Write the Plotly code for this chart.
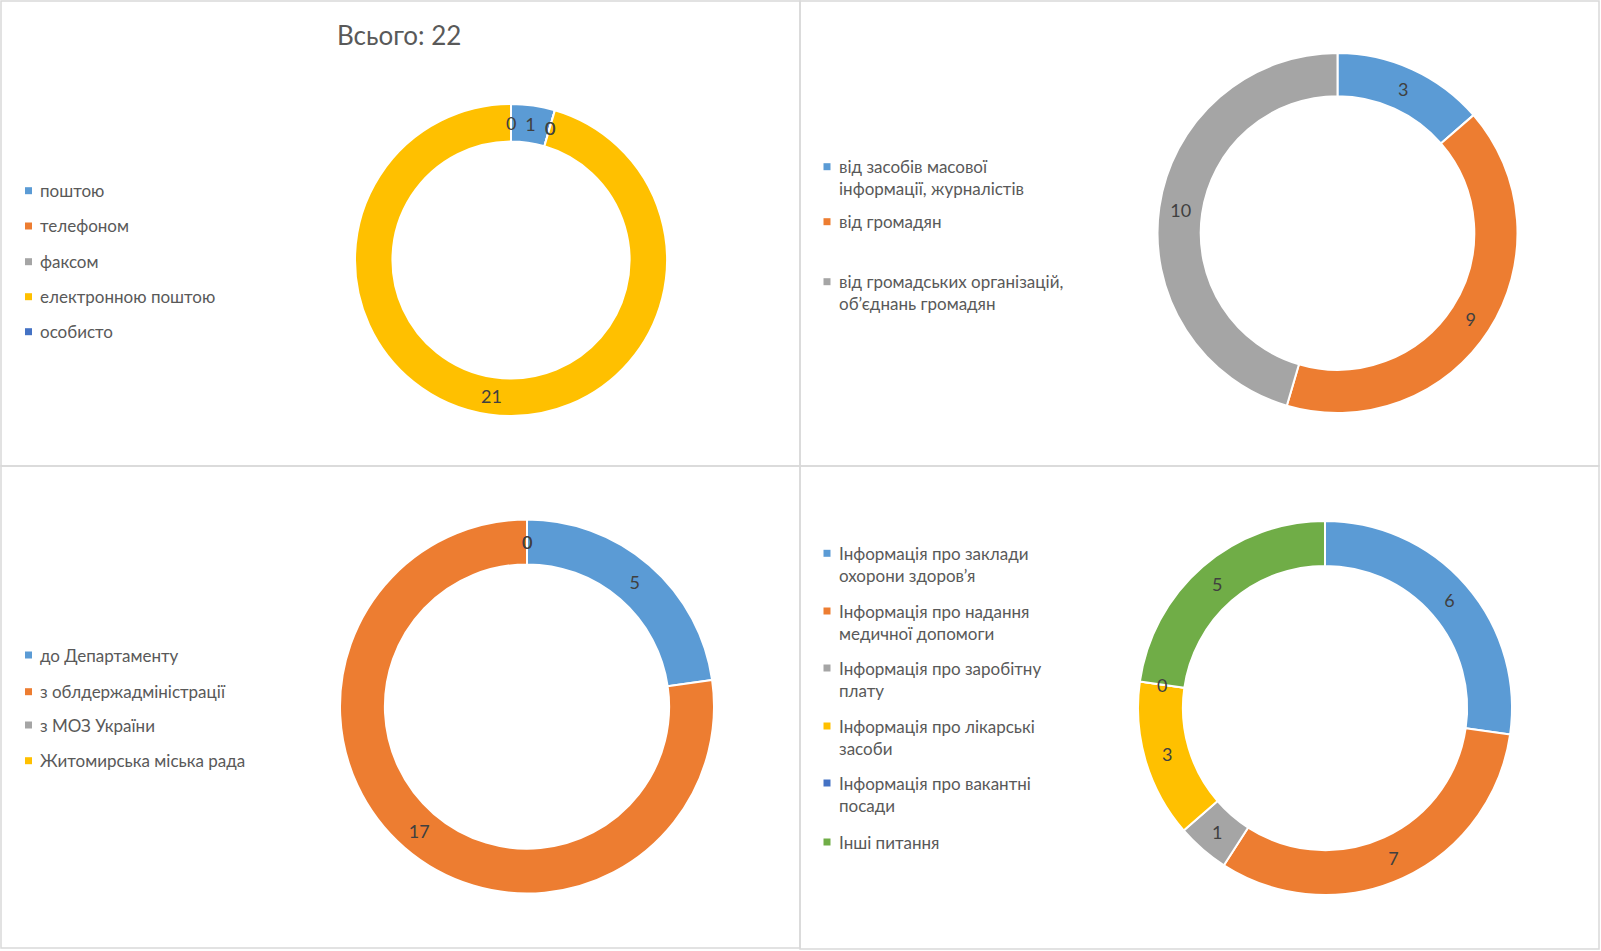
import math
import plotly.graph_objects as go

# ---------------- data ----------------
title_text = "Всього: 22"

p1_labels = ["поштою", "телефоном", "факсом", "електронною поштою", "особисто"]
p1_values = [1, 0, 0, 21, 0]

p2_labels = ["від засобів масової<br>інформації, журналістів", "від громадян",
             "від громадських організацій,<br>об’єднань громадян"]
p2_values = [3, 9, 10]

p3_labels = ["до Департаменту", "з облдержадміністрації", "з МОЗ України", "Житомирська міська рада"]
p3_values = [5, 17, 0, 0]

p4_labels = ["Інформація про заклади<br>охорони здоров’я",
             "Інформація про надання<br>медичної допомоги",
             "Інформація про заробітну<br>плату",
             "Інформація про лікарські<br>засоби",
             "Інформація про вакантні<br>посади",
             "Інші питання"]
p4_values = [6, 7, 1, 3, 0, 5]

# ---------------- styles / layout ----------------
W, H = 1601, 951
PALETTE = ["#5B9BD5", "#ED7D31", "#A5A5A5", "#FFC000", "#4472C4", "#70AD47"]
FONT = "Lato, 'Open Sans', sans-serif"
LEG_FS = 17
LAB_FS = 18
HOLE = 0.76

panels = [
    dict(labels=p1_labels, values=p1_values, cx=511, cy=260, r=156,
         mx=28.5, tx=37.5, ys=[190.7, 226, 261.7, 296.7, 331.7]),
    dict(labels=p2_labels, values=p2_values, cx=1337.5, cy=233, r=180,
         mx=827, tx=837, ys=[166.7, 221.7, 281.7]),
    dict(labels=p3_labels, values=p3_values, cx=527, cy=706.5, r=187,
         mx=28.5, tx=37.5, ys=[655, 691.7, 725, 760.7]),
    dict(labels=p4_labels, values=p4_values, cx=1325, cy=708, r=187,
         mx=827, tx=837, ys=[553.3, 611, 668, 726, 783, 842]),
]


def px(x):
    return x / W


def py(y):
    return 1 - y / H


fig = go.Figure()
annotations = []
shapes = []

for p in panels:
    cx, cy, r = p["cx"], p["cy"], p["r"]
    vals = p["values"]
    fig.add_trace(go.Pie(
        labels=[l.replace("<br>", " ") for l in p["labels"]],
        values=vals,
        hole=HOLE,
        sort=False,
        direction="clockwise",
        rotation=0,
        marker=dict(colors=PALETTE[:len(vals)], line=dict(color="white", width=2)),
        texttemplate="%{value}",
        textposition="inside",
        insidetextorientation="horizontal",
        textfont=dict(family=FONT, size=LAB_FS, color="#404040"),
        hoverinfo="skip",
        showlegend=False,
        domain=dict(x=[px(cx - r), px(cx + r)], y=[py(cy + r), py(cy - r)]),
    ))
    # labels for zero-value slices (plotly does not draw them): placed at the
    # slice's angle on the ring middle, derived from the cumulative values
    total = sum(vals)
    rm = r * (1 + HOLE) / 2
    cum = 0
    for v in vals:
        if v == 0:
            ang = math.radians(cum / total * 360)
            annotations.append(dict(
                x=px(cx + rm * math.sin(ang)), y=py(cy - rm * math.cos(ang)),
                xref="paper", yref="paper", xanchor="center", yanchor="middle",
                showarrow=False, text=str(v),
                font=dict(family=FONT, size=LAB_FS, color="#404040")))
        cum += v
    # legend (drawn as annotations + squares)
    lh = LEG_FS * 1.3
    for i, (lab, y0) in enumerate(zip(p["labels"], p["ys"])):
        n = lab.count("<br>") + 1
        yc = y0 + (n - 1) * lh / 2
        annotations.append(dict(
            x=px(p["tx"]), y=py(yc), xref="paper", yref="paper",
            xanchor="left", yanchor="middle", align="left", showarrow=False,
            text=lab, font=dict(family=FONT, size=LEG_FS, color="#595959")))
        s = 3.5
        shapes.append(dict(type="rect", xref="paper", yref="paper",
                           x0=px(p["mx"] - s), x1=px(p["mx"] + s),
                           y0=py(y0 + s), y1=py(y0 - s),
                           fillcolor=PALETTE[i], line=dict(width=0)))

# title
annotations.append(dict(x=px(399), y=py(35), xref="paper", yref="paper",
                        xanchor="center", yanchor="middle", showarrow=False,
                        text=title_text, font=dict(family=FONT, size=26, color="#595959")))

# panel borders
for (x0, y0, x1, y1) in [(1, 1, 800, 466), (800, 1, 1599, 466),
                         (1, 466, 800, 948), (800, 466, 1599, 949)]:
    shapes.append(dict(type="rect", xref="paper", yref="paper",
                       x0=px(x0), x1=px(x1), y0=py(y1), y1=py(y0),
                       line=dict(color="#D9D9D9", width=1.5), fillcolor="rgba(0,0,0,0)"))

fig.update_layout(
    width=W, height=H,
    margin=dict(l=0, r=0, t=0, b=0),
    paper_bgcolor="white", plot_bgcolor="white",
    annotations=annotations, shapes=shapes,
    font=dict(family=FONT),
)

fig.write_html("out.html",
               config={"displayModeBar": False},
               post_script="document.body.style.margin='0px';document.body.style.overflow='hidden';")
